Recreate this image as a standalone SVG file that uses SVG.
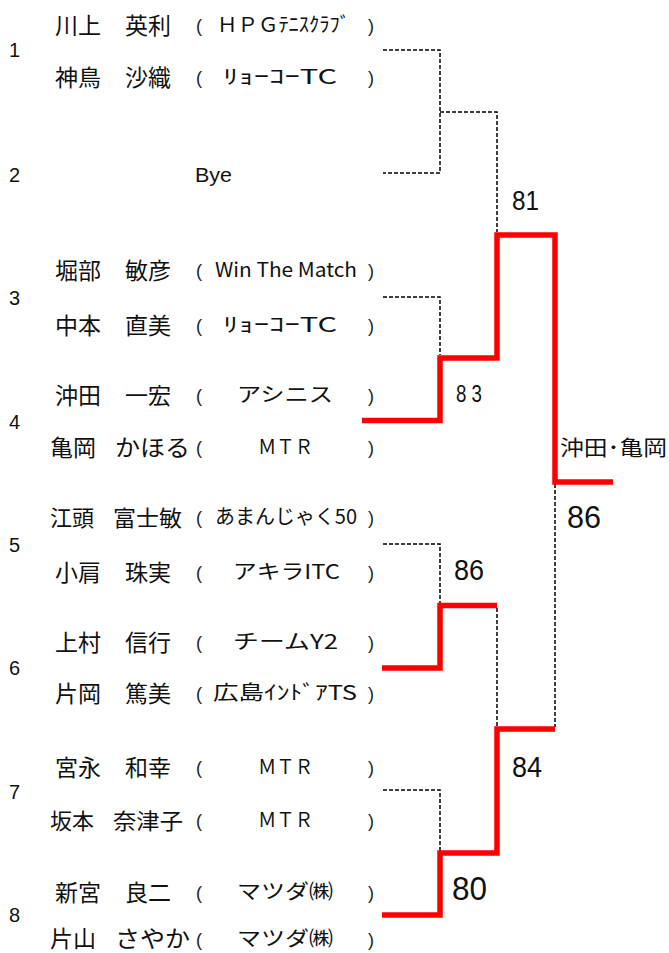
<svg xmlns="http://www.w3.org/2000/svg" width="669" height="953" viewBox="0 0 669 953">
<style>
.seed{font-family:"Liberation Sans",Arial,sans-serif;font-size:20px;fill:#111}
.nm{font-family:"Noto Sans CJK JP","Noto Sans",sans-serif;font-size:23px;fill:#111}
.cl{font-family:"Noto Sans CJK JP","Liberation Sans",sans-serif;font-size:20px;fill:#111}
.lat{font-family:"Liberation Sans",Arial,sans-serif;font-size:21px;fill:#111}
.par{font-family:"Liberation Sans",Arial,sans-serif;font-size:18px;fill:#222}
.sc{font-family:"Liberation Sans",Arial,sans-serif;fill:#111}
.win{font-family:"Noto Sans CJK JP",sans-serif;font-size:21px;fill:#111}
.dash{fill:none;stroke:#000;stroke-width:1.5;stroke-dasharray:4 2}
.red{fill:none;stroke:#ff0000;stroke-width:5.5;stroke-linejoin:miter;stroke-linecap:butt}
</style>
<rect width="669" height="953" fill="#fff"/>

<g id="seed1">
<text class="seed" x="9" y="57">1</text>
<text class="nm" x="55" y="34">川上</text><text class="nm" x="125" y="34">英利</text>
<text class="par" x="196" y="32">(</text><text class="cl" x="217" y="32" textLength="133" lengthAdjust="spacingAndGlyphs">ＨＰＧﾃﾆｽｸﾗﾌﾞ</text><text class="par" x="368" y="32">)</text>
<text class="nm" x="55" y="86">神鳥</text><text class="nm" x="125" y="86">沙織</text>
<text class="par" x="196" y="84">(</text><text class="cl" x="223" y="84" textLength="114" lengthAdjust="spacingAndGlyphs">ﾘｮｰｺｰTC</text><text class="par" x="368" y="84">)</text>
</g>
<g id="seed2">
<text class="seed" x="9" y="182">2</text>
<text class="lat" x="195" y="182" textLength="37" lengthAdjust="spacingAndGlyphs">Bye</text>
</g>
<g id="seed3">
<text class="seed" x="9" y="305">3</text>
<text class="nm" x="55" y="279">堀部</text><text class="nm" x="125" y="279">敏彦</text>
<text class="par" x="196" y="277">(</text><text class="cl" x="215" y="277" textLength="142" lengthAdjust="spacingAndGlyphs">Win The Match</text><text class="par" x="368" y="277">)</text>
<text class="nm" x="55" y="334">中本</text><text class="nm" x="125" y="334">直美</text>
<text class="par" x="196" y="332">(</text><text class="cl" x="223" y="332" textLength="114" lengthAdjust="spacingAndGlyphs">ﾘｮｰｺｰTC</text><text class="par" x="368" y="332">)</text>
</g>
<g id="seed4">
<text class="seed" x="9" y="429">4</text>
<text class="nm" x="55" y="404">沖田</text><text class="nm" x="125" y="404">一宏</text>
<text class="par" x="196" y="402">(</text><text class="cl" x="237" y="402" textLength="96" lengthAdjust="spacingAndGlyphs">アシニス</text><text class="par" x="368" y="402">)</text>
<text class="nm" x="50" y="456">亀岡</text><text class="nm" x="115" y="456" textLength="75" lengthAdjust="spacingAndGlyphs">かほる</text>
<text class="par" x="196" y="454">(</text><text class="cl" x="258" y="454" textLength="55" lengthAdjust="spacingAndGlyphs">ＭＴＲ</text><text class="par" x="368" y="454">)</text>
</g>
<g id="seed5">
<text class="seed" x="9" y="552">5</text>
<text class="nm" x="50" y="526" style="font-size:22px">江頭</text><text class="nm" x="113" y="526" style="font-size:22px" textLength="69" lengthAdjust="spacingAndGlyphs">富士敏</text>
<text class="par" x="196" y="524">(</text><text class="cl" x="215" y="524" textLength="142" lengthAdjust="spacingAndGlyphs">あまんじゃく50</text><text class="par" x="368" y="524">)</text>
<text class="nm" x="55" y="581">小肩</text><text class="nm" x="125" y="581">珠実</text>
<text class="par" x="196" y="579">(</text><text class="cl" x="233" y="579" textLength="107" lengthAdjust="spacingAndGlyphs">アキラITC</text><text class="par" x="368" y="579">)</text>
</g>
<g id="seed6">
<text class="seed" x="9" y="675">6</text>
<text class="nm" x="55" y="651">上村</text><text class="nm" x="125" y="651">信行</text>
<text class="par" x="196" y="649">(</text><text class="cl" x="233" y="649" textLength="105" lengthAdjust="spacingAndGlyphs">チームY2</text><text class="par" x="368" y="649">)</text>
<text class="nm" x="55" y="702">片岡</text><text class="nm" x="125" y="702">篤美</text>
<text class="par" x="196" y="700">(</text><text class="cl" x="213" y="700" textLength="144" lengthAdjust="spacingAndGlyphs">広島ｲﾝﾄﾞｱTS</text><text class="par" x="368" y="700">)</text>
</g>
<g id="seed7">
<text class="seed" x="9" y="799">7</text>
<text class="nm" x="55" y="776">宮永</text><text class="nm" x="125" y="776">和幸</text>
<text class="par" x="196" y="774">(</text><text class="cl" x="258" y="774" textLength="55" lengthAdjust="spacingAndGlyphs">ＭＴＲ</text><text class="par" x="368" y="774">)</text>
<text class="nm" x="50" y="829" style="font-size:22px">坂本</text><text class="nm" x="113" y="829" style="font-size:22px" textLength="70" lengthAdjust="spacingAndGlyphs">奈津子</text>
<text class="par" x="196" y="827">(</text><text class="cl" x="258" y="827" textLength="55" lengthAdjust="spacingAndGlyphs">ＭＴＲ</text><text class="par" x="368" y="827">)</text>
</g>
<g id="seed8">
<text class="seed" x="9" y="922">8</text>
<text class="nm" x="55" y="901">新宮</text><text class="nm" x="125" y="901">良二</text>
<text class="par" x="196" y="899">(</text><text class="cl" x="237" y="899" textLength="96" lengthAdjust="spacingAndGlyphs">マツダ㈱</text><text class="par" x="368" y="899">)</text>
<text class="nm" x="50" y="947">片山</text><text class="nm" x="115" y="947" textLength="75" lengthAdjust="spacingAndGlyphs">さやか</text>
<text class="par" x="196" y="946">(</text><text class="cl" x="237" y="946" textLength="96" lengthAdjust="spacingAndGlyphs">マツダ㈱</text><text class="par" x="368" y="946">)</text>
</g>

<g id="connectors">
<path class="dash" d="M383 50H440V173H383"/>
<path class="dash" d="M440 112H497V232"/>
<path class="dash" d="M383 297H440V355"/>
<path class="dash" d="M383 544H440V603"/>
<path class="dash" d="M497 608V727"/>
<path class="dash" d="M555 484V727"/>
<path class="dash" d="M383 790H440V851"/>
<path class="red" d="M362 420.5H440V358H497V235H555V482H613"/>
<path class="red" d="M382 668H440V605.5H497"/>
<path class="red" d="M382 915H440V853H497V729H555"/>
</g>

<g id="scores">
<text class="sc" x="512" y="210" style="font-size:28px" textLength="27" lengthAdjust="spacingAndGlyphs">81</text>
<text class="sc" x="456" y="402" style="font-size:23px" textLength="26" lengthAdjust="spacingAndGlyphs">8 3</text>
<text class="sc" x="454" y="580" style="font-size:29px" textLength="30" lengthAdjust="spacingAndGlyphs">86</text>
<text class="sc" x="512" y="777" style="font-size:29px" textLength="30" lengthAdjust="spacingAndGlyphs">84</text>
<text class="sc" x="452" y="900" style="font-size:33px" textLength="35" lengthAdjust="spacingAndGlyphs">80</text>
<text class="sc" x="567" y="528" style="font-size:31px" textLength="34" lengthAdjust="spacingAndGlyphs">86</text>
<text class="win" x="560" y="455" textLength="107" lengthAdjust="spacingAndGlyphs">沖田･亀岡</text>
</g>
</svg>
